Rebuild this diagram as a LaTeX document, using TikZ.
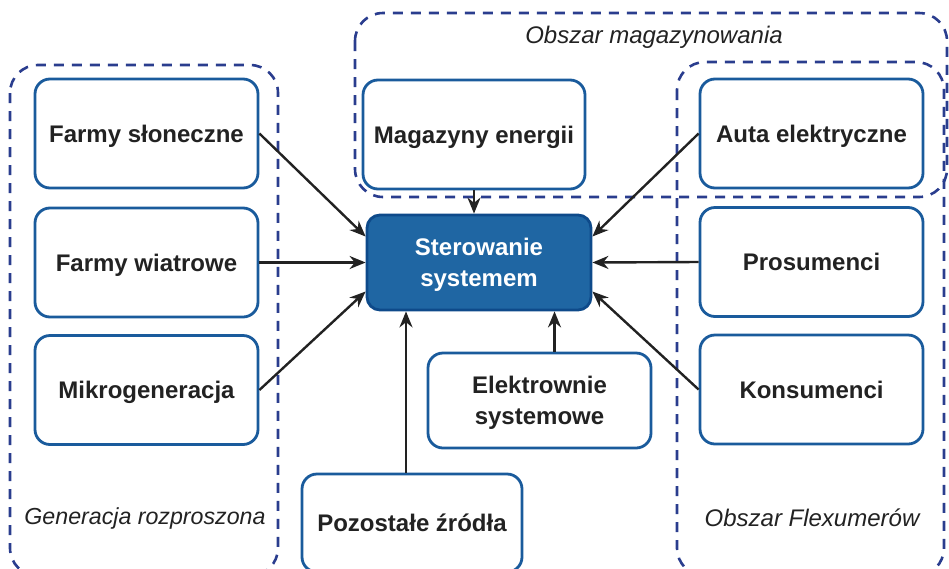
\documentclass[tikz,border=0pt]{standalone}
\usepackage{fontspec}
\setmainfont{Liberation Sans}
\usetikzlibrary{arrows.meta,calc}

\definecolor{boxblue}{HTML}{1A5B9C}
\definecolor{ctrlfill}{HTML}{1F66A3}
\definecolor{ctrlline}{HTML}{0E4A8A}
\definecolor{areablue}{HTML}{2A3D8E}
\definecolor{textdark}{HTML}{222222}

\tikzset{
  unit/.style={draw=boxblue, line width=2.8pt, rounded corners=15pt, fill=white,
    minimum width=223pt, minimum height=109pt, inner sep=0pt, align=center,
    text depth=0pt, text=textdark, font=\fontsize{24}{31}\selectfont\bfseries},
  ctrlbox/.style={unit, fill=ctrlfill, draw=ctrlline, text=white,
    minimum width=224pt, minimum height=95pt, rounded corners=13pt},
  area/.style={draw=areablue, line width=2.6pt, dash pattern=on 10pt off 8pt, rounded corners=28pt},
  arealabel/.style={text=textdark, font=\fontsize{24}{28}\selectfont\itshape},
  link/.style={draw=textdark, line width=2.4pt, -{Stealth[length=16pt,width=13pt]}}
}

\begin{document}
\begin{tikzpicture}[x=1pt, y=-1pt]
    \useasboundingbox (0,0) rectangle (949,568);
    \clip (0,0) rectangle (949,568);

    % obszary
    \draw[area] (10,65) rectangle (278,576);
    \draw[area] (677,62) rectangle (944,576);
    \draw[area] (355,13) rectangle (947,197);
    \node[arealabel, font=\fontsize{23.2}{28}\selectfont\itshape] (gen) at (145,518) {Generacja rozproszona};
    \node[arealabel] (flex) at (812,518) {Obszar Flexumerów};
    \node[arealabel] (mags) at (654,37) {Obszar magazynowania};

    % bloki
    \node[unit] (fs) at (146.5,133.5) {Farmy słoneczne};
    \node[unit] (fw) at (146.5,262.5) {Farmy wiatrowe};
    \node[unit] (mg) at (146.5,390) {Mikrogeneracja};
    \node[unit, minimum width=222pt] (mag) at (474,134.5) {Magazyny energii};
    \node[unit] (auta) at (811.5,133.5) {Auta elektryczne};
    \node[unit] (pros) at (811.5,262) {Prosumenci};
    \node[unit] (kons) at (811.5,389.5) {Konsumenci};
    \node[unit, minimum height=95pt] (el) at (539.5,400.5) {Elektrownie\\systemowe};
    \node[unit, minimum width=220pt, minimum height=98pt] (poz) at (412,523) {Pozostałe źródła};
    \node[ctrlbox] (ctrl) at (479,262.5) {Sterowanie\\systemem};

    % polaczenia
    \draw[link] (fs.east) -- ([yshift=26pt]ctrl.west);
    \draw[link] (fw.east) -- (ctrl.west);
    \draw[link] (mg.east) -- ([yshift=-29pt]ctrl.west);
    \draw[link] (auta.west) -- ([yshift=26pt]ctrl.east);
    \draw[link] (pros.west) -- (ctrl.east);
    \draw[link] (kons.west) -- ([yshift=-29pt]ctrl.east);
    \draw[link] (mag.south) -- (mag.south |- ctrl.north);
    \draw[link] ([xshift=15pt]el.north) -- ([xshift=15pt]el.north |- ctrl.south);
    \draw[link] ([xshift=-6pt]poz.north) -- ([xshift=-6pt]poz.north |- ctrl.south);
\end{tikzpicture}
\end{document}
